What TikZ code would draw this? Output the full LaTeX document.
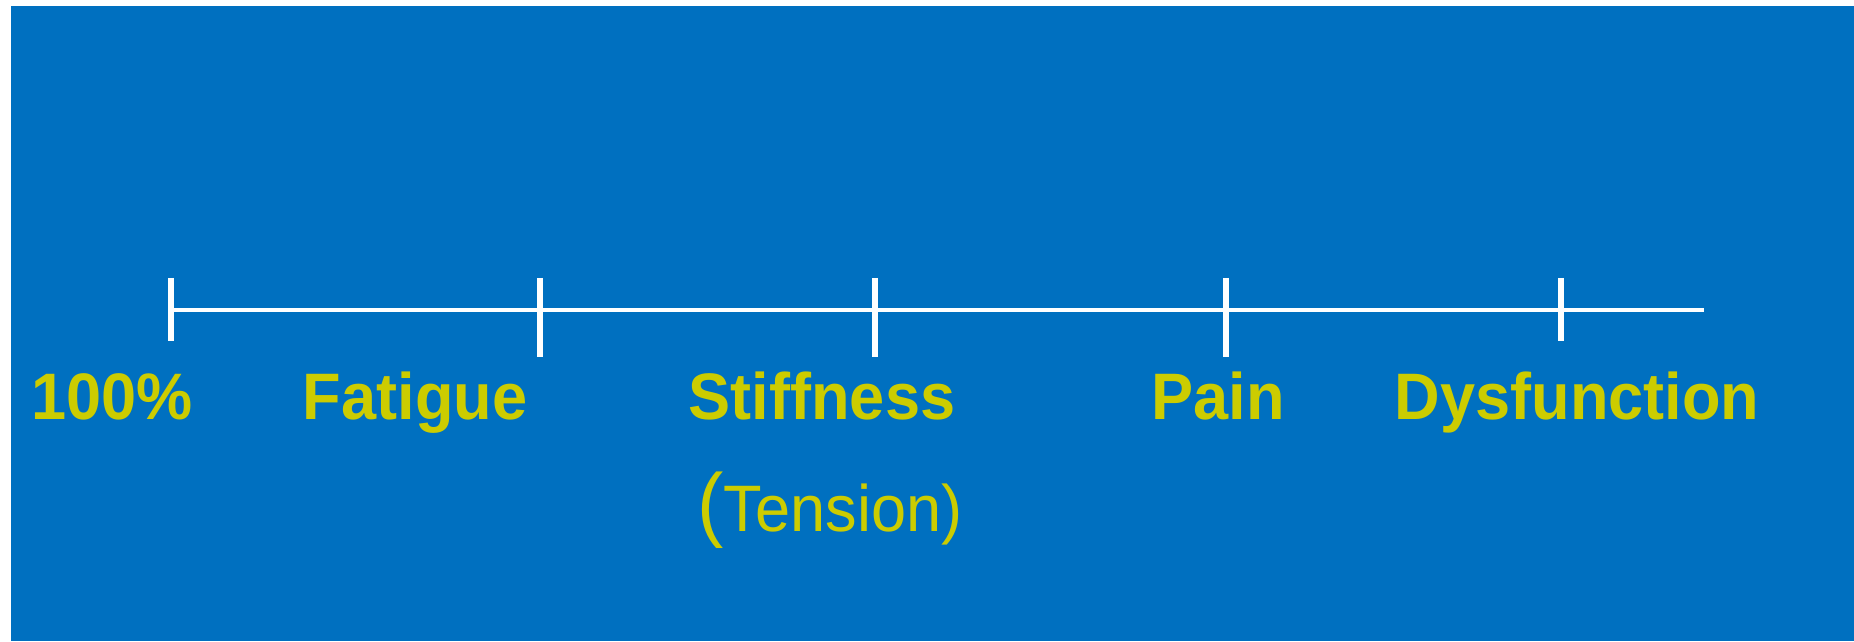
\documentclass[tikz,border=0pt]{standalone}
\usepackage{fontspec}
\setmainfont[FakeStretch=0.96]{Liberation Sans}
\definecolor{slideblue}{RGB}{0,112,192}
\definecolor{labelyellow}{RGB}{204,204,0}

\begin{document}
\begin{tikzpicture}[
  axis/.style={draw=white, line width=1.35pt},
  notch/.style={draw=white, line width=1.5pt},
  stage/.style={text=labelyellow, font=\fontsize{18.7}{22}\selectfont\bfseries,
    anchor=base, inner sep=0pt},
  note/.style={text=labelyellow, font=\fontsize{18.7}{22}\selectfont,
    anchor=base, inner sep=0pt}
]
\useasboundingbox[fill=white] (0,0) rectangle (18.54,6.41);
\fill[slideblue] (0.11,0) rectangle (18.54,6.35);

% points on the scale
\coordinate (p0) at (1.71,3.31);
\coordinate (p1) at (5.40,3.31);
\coordinate (p2) at (8.75,3.31);
\coordinate (p3) at (12.26,3.31);
\coordinate (p4) at (15.61,3.31);
\coordinate (end) at (17.04,3.31);

\draw[axis] (p0) -- (end);
\foreach \p/\dn in {p0/0.31, p1/0.47, p2/0.47, p3/0.47, p4/0.31}
  \draw[notch] ([yshift=0.32cm]\p) -- ([yshift=-\dn cm]\p);

% labels under the scale
\node[stage] (full) at (1.12,2.21) {100\%};
\node[stage] (fatigue) at (4.15,2.21) {Fatigue};
\node[stage] (stiffness) at (8.22,2.21) {Stiffness};
\node[note] (tension) at (8.30,1.09) {{\fontsize{23.4}{26}\selectfont(}Tension)};
\node[stage] (pain) at (12.18,2.21) {Pain};
\node[stage] (dysfunction) at (15.77,2.21) {Dysfunction};
\end{tikzpicture}
\end{document}
